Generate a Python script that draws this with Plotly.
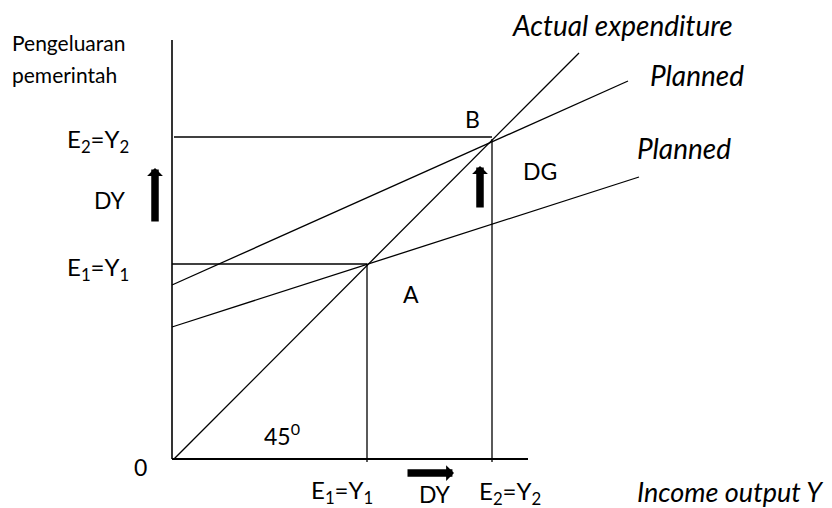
import plotly.graph_objects as go

# ---- data (economic quantities, in diagram units) ----
Y1 = 195          # first equilibrium income / expenditure (point A)
Y2 = 320          # second equilibrium income / expenditure (point B)
actual_x = [2, 407]           # 45-degree "Actual expenditure" line
actual_y = [0, 406]
planned_high_x = [0, 456]     # planned expenditure after DG
planned_high_y = [174, 378]
planned_low_x = [0, 467]      # planned expenditure before DG
planned_low_y = [132, 282]
axis_x_max = 356
axis_y_max = 419

BLACK = "#000000"
FONT = "Lato, 'Open Sans', sans-serif"

fig = go.Figure()

def seg(xs, ys, w=1.3):
    fig.add_trace(go.Scatter(x=xs, y=ys, mode="lines",
                             line=dict(color=BLACK, width=w),
                             hoverinfo="skip", showlegend=False))

# axes
seg([0, 0], [0, axis_y_max], 1.6)
seg([0, axis_x_max], [0, 0], 1.8)
# curves
seg(actual_x, actual_y)
seg(planned_high_x, planned_high_y)
seg(planned_low_x, planned_low_y)
# guides
seg([0, Y1], [Y1, Y1])
seg([Y1, Y1], [Y1, -3])
seg([2, Y2], [Y2 + 2, Y2 + 2])
seg([Y2, Y2], [Y2, -3])

def arrow(x, y, ax, ay):
    fig.add_annotation(x=x, y=y, ax=ax, ay=ay, xref="x", yref="y",
                       axref="x", ayref="y", text="", showarrow=True,
                       arrowhead=1, arrowsize=0.35, arrowwidth=7.5,
                       arrowcolor=BLACK)

arrow(-17, 291, -17, 236)
arrow(308, 293, 308, 250)
arrow(282, -14, 234, -14)

def label(x, y, text, size=23, italic=False, xanchor="center"):
    fig.add_annotation(x=x, y=y, xref="x", yref="y", text=text,
                       showarrow=False, xanchor=xanchor, yanchor="middle",
                       font=dict(family=FONT, size=size, color=BLACK,
                                 style="italic" if italic else "normal"))

label(-162, 417, "Pengeluaran", size=21, xanchor="left")
label(-162, 385, "pemerintah", size=21, xanchor="left")
label(-41, 319, "E<sub>2</sub>=Y<sub>2</sub>", size=24, xanchor="right")
label(-44, 259, "DY", xanchor="right")
label(-41, 191, "E<sub>1</sub>=Y<sub>1</sub>", size=24, xanchor="right")
label(-32, -8, "0")
label(90, 25, "45<sup>0</sup>", xanchor="left")
label(137, -32, "E<sub>1</sub>=Y<sub>1</sub>", size=24, xanchor="left")
label(245, -35, "DY", xanchor="left")
label(305, -33, "E<sub>2</sub>=Y<sub>2</sub>", size=24, xanchor="left")
label(463, -32, "Income output Y", size=27, italic=True, xanchor="left")
label(338, 434, "Actual expenditure", size=28, italic=True, xanchor="left")
label(476, 384, "Planned", size=28, italic=True, xanchor="left")
label(463, 311, "Planned", size=28, italic=True, xanchor="left")
label(300, 340, "B")
label(368, 288, "DG")
label(239, 165, "A")

fig.update_layout(
    width=832, height=508,
    margin=dict(l=0, r=0, t=0, b=0),
    paper_bgcolor="white", plot_bgcolor="white",
    xaxis=dict(range=[-172, 660], visible=False, fixedrange=True),
    yaxis=dict(range=[-49, 459], visible=False, fixedrange=True),
    showlegend=False,
)

fig.write_html("out.html", config={"displayModeBar": False},
               post_script="document.body.style.margin='0';document.body.style.overflow='hidden';")
